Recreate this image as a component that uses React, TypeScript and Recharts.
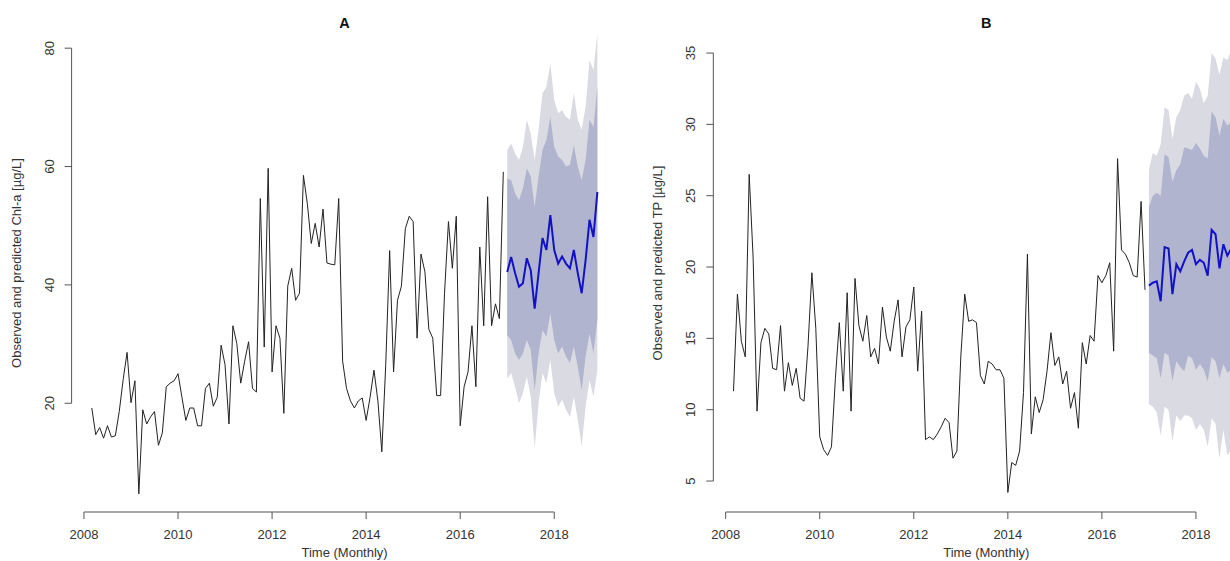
import React from 'react';
import { ComposedChart, Line, Area, XAxis, YAxis, ReferenceLine } from 'recharts';

// monthly time axis: observed Mar 2008 - Dec 2016, forecast Jan 2017 - Dec 2018
const OBS_START = 2008 + 2 / 12;
const FC_START = 2017;
const xTicks = [2008, 2010, 2012, 2014, 2016, 2018];
const xDomain = [2007.737, 2019.347];

// Panel A - Chl-a [µg/L]
const chlObserved = [
  19.2, 14.7, 15.9, 14.1, 16.2, 14.3, 14.5, 18.6, 24.0, 28.6,
  20.1, 23.8, 4.7, 18.9, 16.5, 17.7, 18.6, 12.9, 15.0, 22.8,
  23.4, 23.8, 25.0, 21.0, 17.1, 19.2, 19.2, 16.2, 16.2, 22.5,
  23.4, 19.5, 21.0, 29.8, 26.5, 16.5, 33.1, 30.1, 23.4, 27.1,
  30.4, 22.5, 21.9, 54.6, 29.5, 59.7, 25.3, 33.1, 31.0, 18.3,
  39.8, 42.8, 37.4, 38.6, 58.5, 53.7, 47.0, 50.4, 46.4, 52.8,
  43.7, 43.5, 43.4, 54.6, 27.1, 22.5, 20.4, 19.2, 20.4, 20.9,
  17.1, 21.0, 25.6, 20.4, 11.8, 26.5, 45.8, 25.3, 37.4, 39.8,
  49.5, 51.6, 50.7, 31.0, 45.2, 42.2, 32.5, 31.0, 21.3, 21.3,
  38.6, 50.7, 42.8, 51.6, 16.2, 22.8, 25.3, 33.1, 22.8, 46.4,
  33.1, 54.9, 33.1, 36.8, 34.3, 59.1,
];
const chlMean = [42.2, 44.7, 42.0, 39.7, 40.3, 44.5, 42.5, 36.0, 42.0, 47.9, 45.9, 51.8, 45.9, 43.6, 44.8, 43.6, 42.8, 45.9, 42.0, 38.6, 44.2, 51.0, 48.1, 55.7];
const chlHi80 = [58.0, 57.7, 55.5, 54.3, 56.3, 59.7, 58.3, 53.2, 58.3, 62.8, 64.5, 68.4, 63.3, 61.7, 61.1, 60.0, 60.3, 63.6, 60.0, 57.7, 61.1, 67.9, 66.7, 73.5];
const chlLo80 = [31.5, 30.7, 28.4, 27.3, 28.4, 30.7, 29.0, 22.2, 28.4, 32.4, 31.2, 35.2, 30.7, 28.4, 29.6, 27.9, 26.8, 29.6, 26.2, 22.2, 27.9, 31.8, 28.4, 34.1];
const chlHi95 = [62.8, 63.9, 62.2, 61.1, 63.3, 67.9, 65.6, 61.1, 66.2, 72.4, 73.5, 77.4, 71.2, 69.0, 69.5, 68.4, 67.9, 72.4, 67.9, 66.2, 70.1, 78.0, 76.3, 82.5];
const chlLo95 = [24.2, 25.1, 22.8, 20.0, 21.7, 24.5, 21.1, 12.5, 20.0, 25.1, 23.4, 27.3, 21.7, 19.4, 20.6, 18.9, 17.7, 21.1, 17.2, 12.8, 19.4, 23.9, 21.1, 25.6];
const chlTicks = [20, 40, 60, 80];

// Panel B - TP [µg/L]
const tpObserved = [
  11.3, 18.1, 14.8, 13.7, 26.5, 20.7, 9.9, 14.7, 15.7, 15.3,
  12.9, 12.8, 15.9, 11.3, 13.3, 11.7, 12.9, 10.8, 10.6, 14.4,
  19.6, 15.7, 8.1, 7.2, 6.8, 7.4, 12.2, 16.1, 11.3, 18.2,
  9.9, 19.2, 15.9, 14.8, 16.6, 13.7, 14.3, 13.2, 17.2, 15.1,
  14.1, 16.2, 17.7, 13.7, 15.8, 16.3, 18.6, 12.7, 16.9, 7.9,
  8.1, 7.9, 8.3, 8.8, 9.4, 9.1, 6.6, 7.1, 13.7, 18.1,
  16.2, 16.3, 16.1, 12.4, 11.8, 13.4, 13.2, 12.8, 12.8, 12.2,
  4.2, 6.3, 6.1, 7.1, 11.2, 20.9, 8.3, 10.9, 9.8, 10.7,
  12.7, 15.4, 13.1, 13.7, 11.8, 12.7, 10.1, 11.2, 8.7, 14.7,
  13.2, 15.2, 14.8, 19.4, 18.9, 19.4, 20.3, 14.1, 27.6, 21.2,
  20.9, 20.3, 19.4, 19.3, 24.6, 18.4,
];
const tpMean = [18.7, 18.9, 19.0, 17.6, 21.4, 21.3, 18.1, 20.2, 19.7, 20.4, 21.0, 21.2, 20.2, 20.5, 20.3, 19.4, 22.6, 22.3, 19.9, 21.6, 20.8, 21.3];
const tpHi80 = [24.2, 25.0, 25.2, 25.0, 27.9, 27.7, 26.0, 26.8, 27.2, 28.4, 28.3, 28.2, 28.7, 28.3, 27.8, 27.6, 30.9, 30.5, 29.2, 30.4, 29.9, 30.2];
const tpLo80 = [14.0, 13.8, 13.6, 12.2, 14.0, 13.8, 12.0, 13.4, 13.0, 12.7, 13.8, 13.6, 12.8, 13.2, 12.8, 12.0, 13.7, 13.4, 12.2, 13.2, 12.6, 12.8];
const tpHi95 = [26.8, 28.0, 27.8, 28.6, 31.2, 31.0, 29.0, 30.5, 31.0, 32.0, 32.2, 31.8, 33.0, 32.5, 31.5, 32.0, 35.0, 34.6, 33.5, 34.7, 34.5, 35.2];
const tpLo95 = [10.4, 10.2, 9.8, 8.2, 10.2, 10.0, 7.8, 9.6, 9.2, 9.6, 9.6, 9.4, 8.6, 9.0, 8.6, 7.4, 9.4, 9.0, 6.6, 8.6, 6.8, 7.2];
const tpTicks = [5, 10, 15, 20, 25, 30, 35];

const FONT = '"Liberation Sans", Arial, Helvetica, sans-serif';
const AXIS = '#555';
const TEXT = '#333';
const H = 561;
const PLOT_TOP = 24.5;
const PLOT_BOTTOM = 512;
const PLOT_W = 546;
const Y_AXIS_W = 40;
const X_AXIS_H = 30;

const buildRows = (obs, mean, lo80, hi80, lo95, hi95) => {
  const rows: any[] = obs.map((v, i) => ({ t: OBS_START + i / 12, obs: v }));
  mean.forEach((m, j) => {
    rows.push({ t: FC_START + j / 12, mean: m, pi80: [lo80[j], hi80[j]], pi95: [lo95[j], hi95[j]] });
  });
  return rows;
};

const XTick = (props: any) => {
  const { x, y, payload } = props;
  return (
    <text x={x} y={y + 18} textAnchor="middle" fill={TEXT} fontSize={13} fontFamily={FONT}>
      {payload.value}
    </text>
  );
};

const YTick = (props: any) => {
  const { x, y, payload } = props;
  const cx = x - 13.5;
  return (
    <text x={cx} y={y} dy="0.36em" textAnchor="middle" fill={TEXT} fontSize={13} fontFamily={FONT}
      transform={`rotate(-90, ${cx}, ${y})`}>
      {payload.value}
    </text>
  );
};

const Panel = ({ left, width, plotLeft, title, yLabel, rows, yDomain, yTicks }) => {
  const margin = {
    top: PLOT_TOP,
    bottom: H - PLOT_BOTTOM - X_AXIS_H,
    left: plotLeft - Y_AXIS_W,
    right: width - plotLeft - PLOT_W,
  };
  const cx = plotLeft + PLOT_W / 2;
  return (
    <div style={{ position: 'absolute', left, top: 0, width, height: H }}>
      <ComposedChart width={width} height={H} data={rows} margin={margin}>
        <XAxis type="number" dataKey="t" domain={xDomain} ticks={xTicks} allowDataOverflow interval={0}
          height={X_AXIS_H} axisLine={false} tickSize={7} tickMargin={2} tickLine={{ stroke: AXIS }} tick={XTick} />
        <YAxis type="number" domain={yDomain} ticks={yTicks} allowDataOverflow interval={0}
          width={Y_AXIS_W} axisLine={false} tickSize={7} tickMargin={2} tickLine={{ stroke: AXIS }} tick={YTick} />
        <Area type="linear" dataKey="pi95" stroke="none" fill="#dadae2" fillOpacity={1} isAnimationActive={false} />
        <Area type="linear" dataKey="pi80" stroke="none" fill="#b0b4cf" fillOpacity={1} isAnimationActive={false} />
        <Line type="linear" dataKey="obs" stroke="#222" strokeWidth={1} dot={false} isAnimationActive={false} />
        <Line type="linear" dataKey="mean" stroke="#1212c4" strokeWidth={2} dot={false} isAnimationActive={false} />
        <ReferenceLine ifOverflow="visible" stroke={AXIS}
          segment={[{ x: xTicks[0], y: yDomain[0] }, { x: xTicks[xTicks.length - 1], y: yDomain[0] }]} />
        <ReferenceLine ifOverflow="visible" stroke={AXIS}
          segment={[{ x: xDomain[0], y: yTicks[0] }, { x: xDomain[0], y: yTicks[yTicks.length - 1] }]} />
      </ComposedChart>
      <div style={{ position: 'absolute', left: cx - 100, top: 13, width: 200, height: 20, lineHeight: '20px',
        textAlign: 'center', fontFamily: FONT, fontWeight: 'bold', fontSize: 14.5, color: '#111' }}>
        {title}
      </div>
      <div style={{ position: 'absolute', left: cx - 150, top: 543, width: 300, height: 20, lineHeight: '20px',
        textAlign: 'center', fontFamily: FONT, fontSize: 13, color: TEXT }}>
        Time (Monthly)
      </div>
      <div style={{ position: 'absolute', left: plotLeft - 55 - 200, top: 263 - 10, width: 400, height: 20,
        lineHeight: '20px', textAlign: 'center', fontFamily: FONT, fontSize: 13, color: TEXT,
        transform: 'rotate(-90deg)' }}>
        {yLabel}
      </div>
    </div>
  );
};

export default function App() {
  const rowsA = buildRows(chlObserved, chlMean, chlLo80, chlHi80, chlLo95, chlHi95);
  const rowsB = buildRows(tpObserved, tpMean, tpLo80, tpHi80, tpLo95, tpHi95);
  return (
    <div style={{ position: 'relative', width: 1230, height: H, overflow: 'hidden', background: '#fff' }}>
      <style>{'body{margin:0;overflow:hidden;}'}</style>
      <Panel left={0} width={640} plotLeft={71.6} title="A" yLabel="Observed and predicted Chl-a [µg/L]"
        rows={rowsA} yDomain={[1.63, 84.0]} yTicks={chlTicks} />
      <Panel left={640} width={660} plotLeft={73.3} title="B" yLabel="Observed and predicted TP [µg/L]"
        rows={rowsB} yDomain={[2.83, 37.0]} yTicks={tpTicks} />
    </div>
  );
}
